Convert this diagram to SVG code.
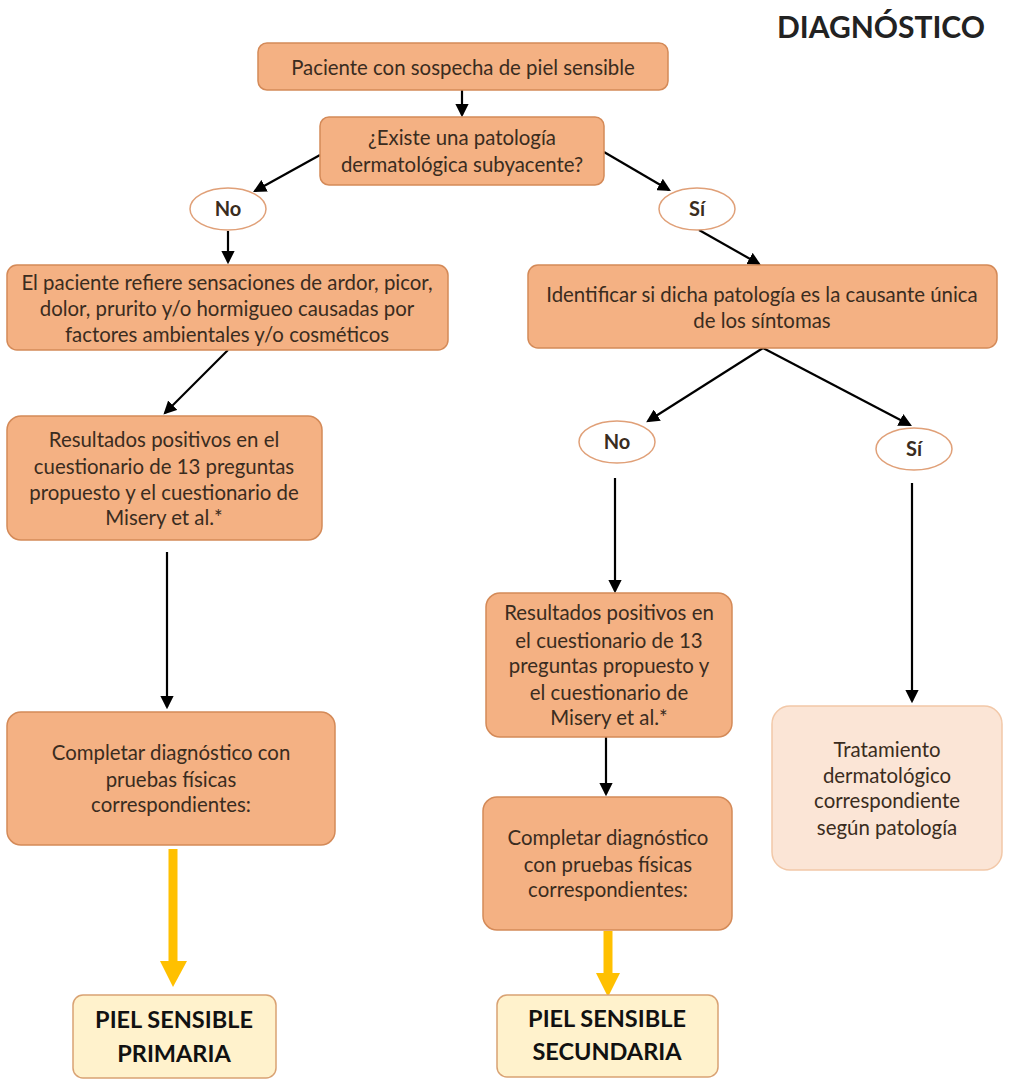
<svg xmlns="http://www.w3.org/2000/svg" width="1009" height="1085" viewBox="0 0 1009 1085">
<defs>
<style>
.box{fill:#F4B183;stroke:#D48A58;stroke-width:1.5}
.light{fill:#FBE5D6;stroke:#F2C8A8;stroke-width:1.5}
.res{fill:#FFF2CC;stroke:#D9A273;stroke-width:1.5}
.ell{fill:#FFFFFF;stroke:#E0A078;stroke-width:1.5}
text{font-family:Lato,"Open Sans","Liberation Sans",sans-serif;fill:#3A2C20;text-anchor:middle}
.t{font-size:20.4px}
.b{font-size:20px;font-weight:bold}
.big{font-size:23.5px;font-weight:bold;fill:#111}
.title{font-size:30px;font-weight:bold;fill:#222}
.c{stroke:#000;stroke-width:2.2;fill:none;marker-end:url(#ah)}
.y{stroke:#FFC000;stroke-width:9;fill:none}
</style>
<marker id="ah" markerWidth="6" markerHeight="6" refX="5" refY="3" orient="auto" markerUnits="strokeWidth">
<path d="M0,0 L6,3 L0,6 z" fill="#000"/>
</marker>
</defs>
<rect width="1009" height="1085" fill="#fff"/>
<text class="title" x="881" y="38">DIAGNÓSTICO</text>

<g id="connectors">
<line class="c" x1="462" y1="90" x2="462" y2="115"/>
<line class="c" x1="320" y1="155" x2="255" y2="191"/>
<line class="c" x1="604" y1="152" x2="669" y2="190"/>
<line class="c" x1="228" y1="231" x2="228" y2="262"/>
<line class="c" x1="228" y1="350" x2="165" y2="413"/>
<line class="c" x1="167" y1="552" x2="167" y2="707"/>
<line class="c" x1="699" y1="230" x2="759" y2="264"/>
<line class="c" x1="763" y1="348" x2="648" y2="421"/>
<line class="c" x1="763" y1="348" x2="910" y2="425"/>
<line class="c" x1="615" y1="478" x2="615" y2="591"/>
<line class="c" x1="606" y1="737" x2="606" y2="794"/>
<line class="c" x1="912" y1="483" x2="912" y2="701"/>
<line class="y" x1="173" y1="849" x2="173" y2="962"/>
<path d="M160,961 L187,961 L173,987 z" fill="#FFC000"/>
<line class="y" x1="608" y1="931" x2="608" y2="974"/>
<path d="M596,973 L620,973 L608,997 z" fill="#FFC000"/>
</g>

<g id="n1"><rect class="box" x="258" y="43" width="410" height="47" rx="9"/>
<text class="t" x="463" y="75">Paciente con sospecha de piel sensible</text></g>

<g id="n2"><rect class="box" x="320" y="117" width="284" height="68" rx="9"/>
<text class="t" x="462" y="145">¿Existe una patología</text>
<text class="t" x="462" y="172">dermatológica subyacente?</text></g>

<g id="no1"><ellipse class="ell" cx="228" cy="209" rx="38" ry="21"/>
<text class="b" x="228" y="216">No</text></g>

<g id="si1"><ellipse class="ell" cx="697" cy="209" rx="38" ry="21"/>
<text class="b" x="697" y="216">Sí</text></g>

<g id="n3"><rect class="box" x="7" y="265" width="441" height="85" rx="10"/>
<text class="t" x="227" y="290">El paciente refiere sensaciones de ardor, picor,</text>
<text class="t" x="227" y="316">dolor, prurito y/o hormigueo causadas por</text>
<text class="t" x="227" y="342">factores ambientales y/o cosméticos</text></g>

<g id="n4"><rect class="box" x="7" y="416" width="315" height="124" rx="14"/>
<text class="t" x="164" y="447">Resultados positivos en el</text>
<text class="t" x="164" y="474">cuestionario de 13 preguntas</text>
<text class="t" x="164" y="500">propuesto y el cuestionario de</text>
<text class="t" x="164" y="525">Misery et al.*</text></g>

<g id="n5"><rect class="box" x="7" y="712" width="328" height="133" rx="14"/>
<text class="t" x="171" y="760">Completar diagnóstico con</text>
<text class="t" x="171" y="787">pruebas físicas</text>
<text class="t" x="171" y="812">correspondientes:</text></g>

<g id="r1"><rect class="res" x="73" y="995" width="203" height="83" rx="10"/>
<text class="big" x="174" y="1028">PIEL SENSIBLE</text>
<text class="big" x="174" y="1062">PRIMARIA</text></g>

<g id="n6"><rect class="box" x="528" y="265" width="469" height="83" rx="10"/>
<text class="t" x="762" y="302">Identificar si dicha patología es la causante única</text>
<text class="t" x="762" y="328">de los síntomas</text></g>

<g id="no2"><ellipse class="ell" cx="617" cy="442" rx="38" ry="21"/>
<text class="b" x="617" y="449">No</text></g>

<g id="si2"><ellipse class="ell" cx="914" cy="449" rx="38" ry="21"/>
<text class="b" x="914" y="456">Sí</text></g>

<g id="n7"><rect class="box" x="486" y="593" width="246" height="144" rx="14"/>
<text class="t" x="609" y="620">Resultados positivos en</text>
<text class="t" x="609" y="648">el cuestionario de 13</text>
<text class="t" x="609" y="673">preguntas propuesto y</text>
<text class="t" x="609" y="700">el cuestionario de</text>
<text class="t" x="609" y="725">Misery et al.*</text></g>

<g id="n8"><rect class="box" x="483" y="797" width="249" height="133" rx="14"/>
<text class="t" x="608" y="845">Completar diagnóstico</text>
<text class="t" x="608" y="872">con pruebas físicas</text>
<text class="t" x="608" y="897">correspondientes:</text></g>

<g id="r2"><rect class="res" x="497" y="995" width="221" height="82" rx="10"/>
<text class="big" x="607" y="1027">PIEL SENSIBLE</text>
<text class="big" x="607" y="1060">SECUNDARIA</text></g>

<g id="n9"><rect class="light" x="772" y="706" width="230" height="164" rx="18"/>
<text class="t" x="887" y="757">Tratamiento</text>
<text class="t" x="887" y="783">dermatológico</text>
<text class="t" x="887" y="808">correspondiente</text>
<text class="t" x="887" y="835">según patología</text></g>
</svg>
